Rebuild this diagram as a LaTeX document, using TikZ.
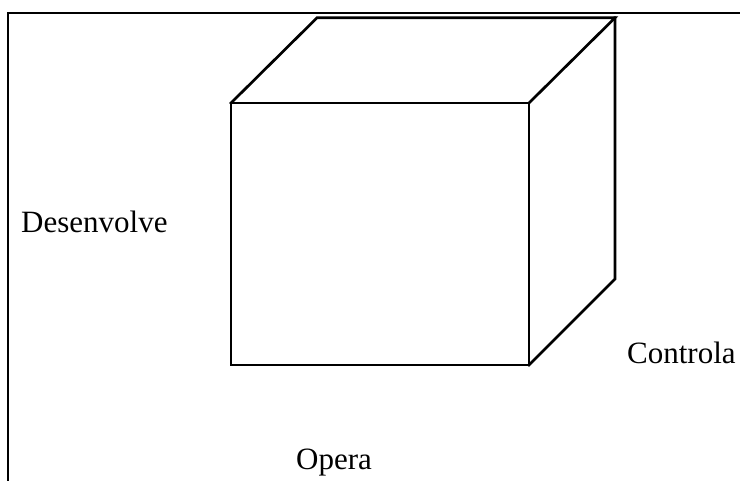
\documentclass[tikz,border=0pt]{standalone}
\usepackage{fontspec}
\setmainfont{Liberation Serif}
\begin{document}
\begin{tikzpicture}[x=1pt,y=-1pt,
  edge/.style={line width=2.7pt,line cap=rect,line join=miter},
  lbl/.style={anchor=base west,inner sep=0pt,font=\fontsize{31}{36}\selectfont}]
\useasboundingbox (0,0) rectangle (740,481);
% frame
\coordinate (tl) at (8,13.3);
\coordinate (tr) at (741,13.3);
\coordinate (bl) at (8,482);
\draw[line width=2.3pt] (tr) -- (tl) -- (bl);
% cube
\coordinate (f1) at (231,103);
\coordinate (f2) at (529,103);
\coordinate (f3) at (529,365);
\coordinate (f4) at (231,365);
\coordinate (b1) at (317,17.8);
\coordinate (b2) at (615,17.8);
\coordinate (b3) at (615,279);
\draw[edge] (f1) -- (f2) -- (f3) -- (f4) -- cycle;
\draw[edge] (f1) -- (b1) -- (b2) -- (f2);
\draw[edge] (b2) -- (b3) -- (f3);
% labels
\node[lbl] (des) at (21,232.7) {Desenvolve};
\node[lbl] (con) at (627,363.3) {Controla};
\node[lbl] (ope) at (296,469) {Opera};
\end{tikzpicture}
\end{document}
